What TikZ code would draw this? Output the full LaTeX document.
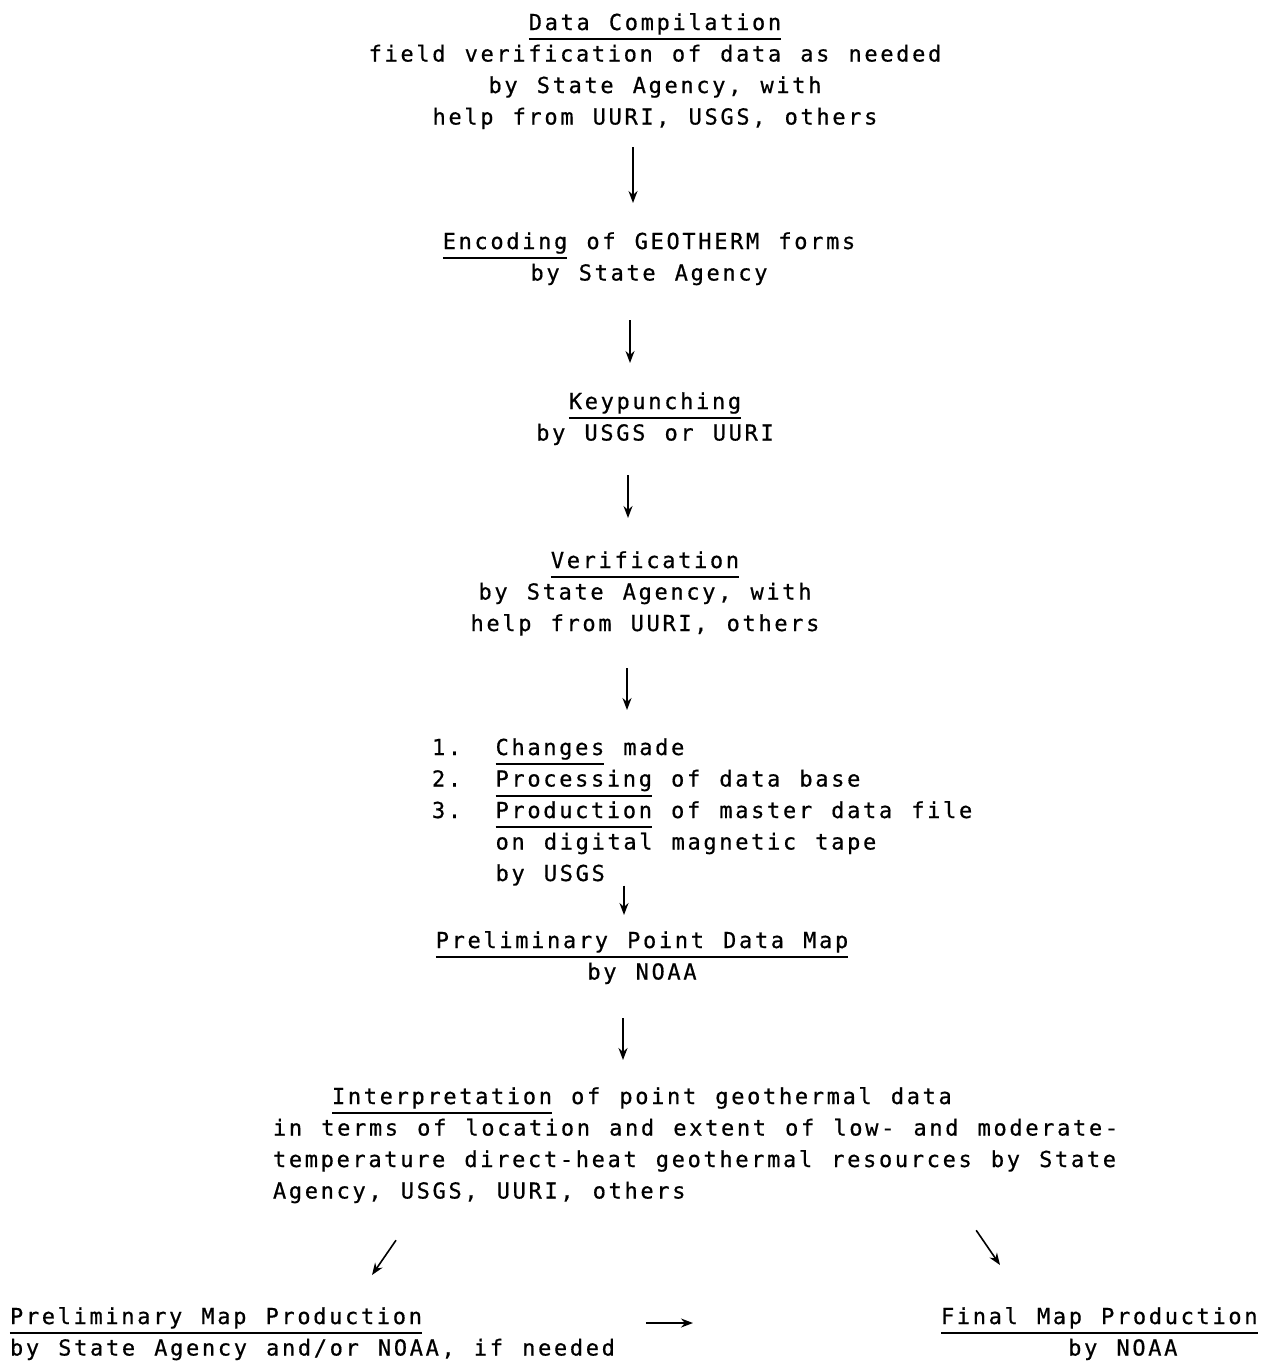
\documentclass[tikz,border=0pt]{standalone}
\usepackage{fontspec}
\newfontfamily\typewriter[LetterSpace=12.1,WordSpace=1.2005,FakeBold=0.6]{DejaVu Sans Mono}
\usetikzlibrary{calc}
\usetikzlibrary{arrows.meta}

% typed underline and list numbers
\newsavebox\ulbox
\newcommand{\ul}[1]{\sbox\ulbox{#1}\rlap{\rule[-5pt]{\wd\ulbox}{0.9pt}}\usebox\ulbox}
\newcommand{\num}[1]{\makebox[31.8pt][l]{#1}}
\newcommand{\topstrut}{\rule{0pt}{9pt}}

\tikzset{
  stage/.style={font={\typewriter\fontsize{11}{15.75}\selectfont}, inner sep=0pt, outer sep=0pt, anchor=north, align=center},
  stageleft/.style={stage, anchor=north west, align=left},
  flow/.style={-{Stealth[length=6pt,width=4.5pt]}, line width=0.8pt}
}

\begin{document}
\begin{tikzpicture}[x=0.5pt,y=-0.5pt]
    % Scan frame
    \useasboundingbox (0,0) rectangle (1270,1366);

    % Draw the stages
    \node[stage] (data) at (655,12) {\topstrut\ul{Data Compilation}\\
        field verification of data as needed\\
        by State Agency, with\\
        help from UURI, USGS, others};
    \node[stage] (encode) at (649,231) {\topstrut\ul{Encoding} of GEOTHERM forms\\
        by State Agency};
    \node[stage] (punch) at (655,391) {\topstrut\ul{Keypunching}\\
        by USGS or UURI};
    \node[stage] (verify) at (645,550) {\topstrut\ul{Verification}\\
        by State Agency, with\\
        help from UURI, others};
    \node[stageleft] (changes) at (432,737) {\topstrut\num{1.}\ul{Changes} made\\
        \num{2.}\ul{Processing} of data base\\
        \num{3.}\ul{Production} of master data file\\
        \num{}on digital magnetic tape\\
        \num{}by USGS};
    \node[stage] (prelim) at (642,930) {\topstrut\ul{Preliminary Point Data Map}\\
        by NOAA};
    \node[stageleft] (interp) at (273,1086) {\topstrut\hspace*{29.5pt}\ul{Interpretation} of point geothermal data\\
        in terms of location and extent of low- and moderate-\\
        temperature direct-heat geothermal resources by State\\
        Agency, USGS, UURI, others};
    \node[stageleft] (prelimmap) at (10,1306) {\topstrut\ul{Preliminary Map Production}\\
        by State Agency and/or NOAA, if needed};
    \node[stageleft] (finalmap) at (941,1306) {\topstrut\ul{Final Map Production}\\
        \hspace*{63.6pt}by NOAA};

    % Draw the flow arrows
    \draw[flow] ($(data.south)+(-22,18)$) -- ($(encode.north)+(-16,-28)$);
    \draw[flow] ($(encode.south)+(-19,35)$) -- ($(punch.north)+(-25,-28)$);
    \draw[flow] ($(punch.south)+(-27,30)$) -- ($(verify.north)+(-17,-32)$);
    \draw[flow] ($(verify.south)+(-18,32.5)$) -- ($(changes.north west)+(195,-27)$);
    \draw[flow] ($(changes.south west)+(192,0)$) -- ($(prelim.north)+(-18,-15)$);
    \draw[flow] ($(prelim.south)+(-19,34)$) -- ($(interp.north west)+(350,-26)$);
    \draw[flow] ($(interp.south west)+(123,37)$) -- ($(prelimmap.north west)+(362,-31)$);
    \draw[flow] ($(interp.south east)+(-142,27)$) -- ($(finalmap.north west)+(59,-41)$);
    \draw[flow] ($(prelimmap.north east)+(31,17)$) -- ($(finalmap.north west)+(-248,17)$);
\end{tikzpicture}
\end{document}
